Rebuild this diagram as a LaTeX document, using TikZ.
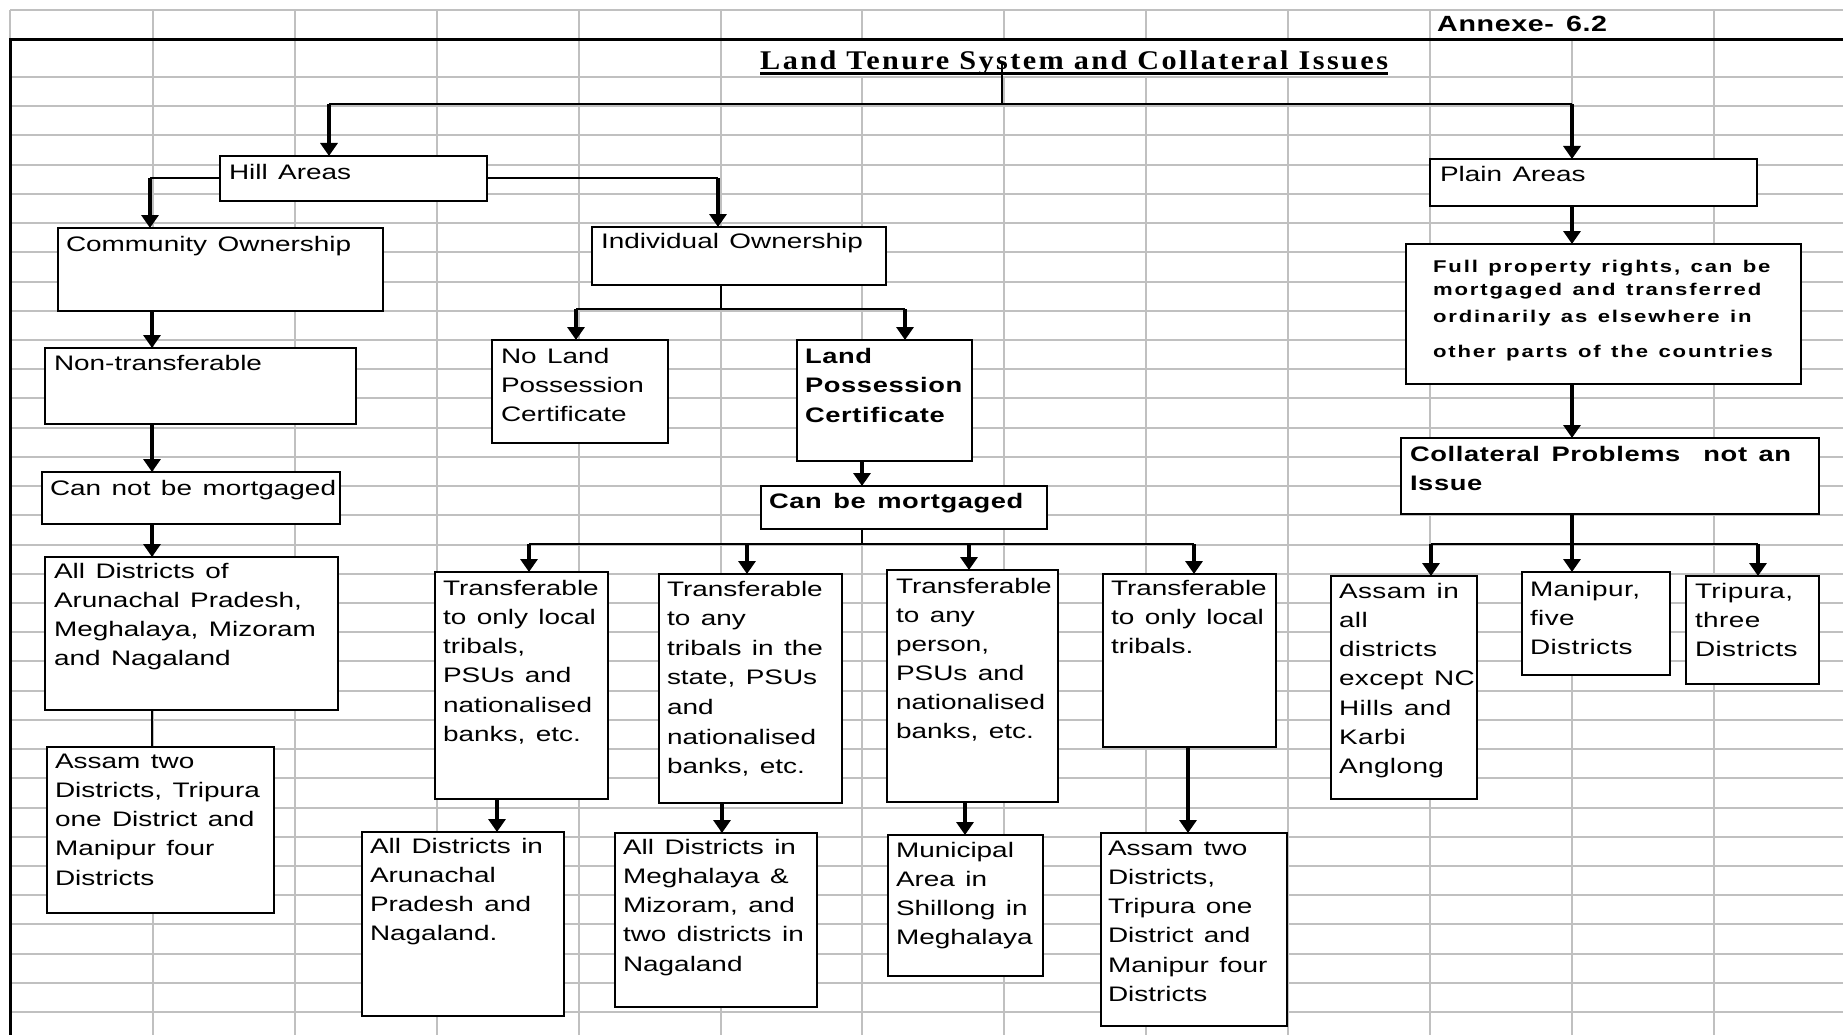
\documentclass[tikz,border=0pt]{standalone}
\usepackage{fontspec}
\usetikzlibrary{arrows.meta,fit}
\newfontfamily\rg[FakeStretch=1.33,WordSpace=1.35]{Liberation Sans}
\newfontfamily\rgw[FakeStretch=1.33,WordSpace=1.3,LetterSpace=2]{Liberation Sans}
\newfontfamily\bd[FakeStretch=1.3,LetterSpace=3,WordSpace=1.4]{Liberation Sans}
\newfontfamily\bdw[FakeStretch=1.3,LetterSpace=11,WordSpace=1.3]{Liberation Sans}
\newfontfamily\tm[FakeStretch=1.12,LetterSpace=9]{Liberation Serif}
\definecolor{gridgray}{RGB}{192,192,192}
\tikzset{
 gridline/.style={draw=gridgray,line width=2pt},
 boxst/.style={draw=black,line width=2pt,fill=white,inner sep=0pt,outer sep=0pt},
 txt/.style={anchor=north west,inner sep=0pt,outer sep=0pt,align=left,yshift=20pt,font=\rg\fontsize{21}{29.3}\selectfont},
 wtxt/.style={txt,font=\rgw\fontsize{21}{29.3}\selectfont},
 btxt/.style={txt,font=\bd\bfseries\fontsize{21}{29.5}\selectfont},
 conn/.style={line width=2pt},
 arr/.style={line width=3.5pt,-{Triangle[length=13pt,width=17pt]}},
}
\newcommand\mybox[5]{\node[boxst,fit={(#2,#3) (#4,#5)}] (#1) {};}
\newcommand\mytext[5][txt]{\node[#1] (#2) at (#3,#4) {\rule{0pt}{20pt}#5};}
\begin{document}
\begin{tikzpicture}[x=1pt,y=-1pt]
\useasboundingbox (0,0) rectangle (1843,1035);
\fill[white] (0,0) rectangle (1843,1035);
% spreadsheet grid
\foreach \xx in {153,295,437,579,721,1714} \draw[gridline] (\xx,10) -- (\xx,1035);
\foreach \xx in {862,1004,1146,1288} {\draw[gridline] (\xx,10) -- (\xx,40); \draw[gridline] (\xx,77) -- (\xx,1035);}
\draw[gridline] (1430,10) -- (1430,1035);
\draw[gridline] (1572,40) -- (1572,1035);
\draw[gridline] (10,10) -- (10,40);
\draw[gridline] (10,10) -- (1843,10);
\foreach \k in {0,...,32} \draw[gridline] (10,{77+29.22*\k}) -- (1843,{77+29.22*\k});
\draw[line width=3pt] (10,1035) -- (10,40) -- (1843,40);
% boxes
\mybox{hill}{220}{156}{487}{201}
\mybox{comm}{58}{228}{383}{311}
\mybox{indiv}{592}{227}{886}{285}
\mybox{plain}{1430}{159}{1757}{206}
\mybox{full}{1406}{244}{1801}{384}
\mybox{nont}{45}{348}{356}{424}
\mybox{nolpc}{492}{340}{668}{443}
\mybox{lpc}{797}{340}{972}{461}
\mybox{coll}{1401}{438}{1819}{514}
\mybox{cnm}{42}{472}{340}{524}
\mybox{cbm}{761}{486}{1047}{529}
\mybox{alld}{45}{557}{338}{710}
\mybox{t1}{435}{572}{608}{799}
\mybox{t2}{659}{574}{842}{803}
\mybox{t3}{887}{570}{1058}{802}
\mybox{t4}{1103}{574}{1276}{747}
\mybox{assamin}{1331}{576}{1477}{799}
\mybox{manipur}{1522}{572}{1670}{675}
\mybox{tripura}{1686}{576}{1819}{684}
\mybox{assamL}{47}{747}{274}{913}
\mybox{arun}{362}{832}{564}{1016}
\mybox{megh}{615}{833}{817}{1007}
\mybox{muni}{888}{835}{1043}{976}
\mybox{assamR}{1101}{833}{1287}{1026}
% title and annexe
\node[anchor=base west,inner sep=0pt,font=\tm\bfseries\fontsize{27}{30}\selectfont] (title) at (760,70) {Land Tenure System and Collateral Issues};
\draw[line width=3pt] ([yshift=-4pt]title.base west) -- ([yshift=-4pt]title.base east);
\node[anchor=base west,inner sep=0pt,font=\bd\bfseries\fontsize{22}{26}\selectfont] (annex) at (1437,32) {Annexe- 6.2};
% connectors
\coordinate (tj) at (1002,104);
\coordinate (hl) at (329,104);
\coordinate (pl) at (1572,104);
\draw[conn] (tj |- title.center) -- (tj);
\draw[conn] (hl) -- (pl);
\draw[arr] (hl) -- (hl |- hill.north);
\draw[arr] (pl) -- (pl |- plain.north);
\coordinate (cx) at (150,0);
\draw[conn] (hill.west) -- (hill.west -| cx);
\draw[arr] (hill.west -| cx) -- (cx |- comm.north);
\coordinate (ix) at (718,0);
\draw[conn] (hill.east) -- (hill.east -| ix);
\draw[arr] (hill.east -| ix) -- (ix |- indiv.north);
\coordinate (ij) at (721,309);
\coordinate (ia) at (576,309);
\coordinate (ib) at (905,309);
\draw[conn] (ij |- indiv.south) -- (ij);
\draw[conn] (ia) -- (ib);
\draw[arr] (ia) -- (ia |- nolpc.north);
\draw[arr] (ib) -- (ib |- lpc.north);
\coordinate (lx) at (152,0);
\draw[arr] (lx |- comm.south) -- (lx |- nont.north);
\draw[arr] (lx |- nont.south) -- (lx |- cnm.north);
\draw[arr] (lx |- cnm.south) -- (lx |- alld.north);
\draw[conn] (lx |- alld.south) -- (lx |- assamL.north);
\coordinate (mx) at (862,0);
\draw[arr] (mx |- lpc.south) -- (mx |- cbm.north);
\coordinate (cj) at (862,544);
\coordinate (c1) at (529,544);
\coordinate (c2) at (747,544);
\coordinate (c3) at (969,544);
\coordinate (c4) at (1194,544);
\draw[conn] (cj |- cbm.south) -- (cj);
\draw[conn] (c1) -- (c4);
\draw[arr] (c1) -- (c1 |- t1.north);
\draw[arr] (c2) -- (c2 |- t2.north);
\draw[arr] (c3) -- (c3 |- t3.north);
\draw[arr] (c4) -- (c4 |- t4.north);
\coordinate (x1) at (497,0);
\coordinate (x2) at (722,0);
\coordinate (x3) at (965,0);
\coordinate (x4) at (1188,0);
\draw[arr] (x1 |- t1.south) -- (x1 |- arun.north);
\draw[arr] (x2 |- t2.south) -- (x2 |- megh.north);
\draw[arr] (x3 |- t3.south) -- (x3 |- muni.north);
\draw[arr] (x4 |- t4.south) -- (x4 |- assamR.north);
\coordinate (px) at (1572,0);
\draw[arr] (px |- plain.south) -- (px |- full.north);
\draw[arr] (px |- full.south) -- (px |- coll.north);
\draw[arr] (px |- coll.south) -- (px |- manipur.north);
\coordinate (pa) at (1431,544);
\coordinate (pb) at (1758,544);
\draw[conn] (pa) -- (pb);
\draw[arr] (pa) -- (pa |- assamin.north);
\draw[arr] (pb) -- (pb |- tripura.north);
% texts
\mytext{thill}{229}{180}{Hill Areas}
\mytext{tcomm}{66}{251}{Community Ownership}
\mytext{tindiv}{601}{248}{Individual Ownership}
\mytext{tplain}{1440}{182}{Plain Areas}
\mytext[txt,font=\bdw\bfseries\fontsize{17}{23}\selectfont]{tfull}{1433}{272}{Full property rights, can be\\mortgaged and transferred\\[4pt]ordinarily as elsewhere in\\[12pt]other parts of the countries}
\mytext{tnont}{54}{370}{Non-transferable}
\mytext{tnolpc}{501}{363}{No Land\\Possession\\Certificate}
\mytext[btxt]{tlpc}{805}{363}{Land\\Possession\\Certificate}
\mytext[btxt]{tcoll}{1410}{461}{Collateral Problems~ not an\\Issue}
\mytext{tcnm}{50}{495}{Can not be mortgaged}
\mytext[btxt]{tcbm}{769}{508}{Can be mortgaged}
\mytext{talld}{54}{578}{All Districts of\\Arunachal Pradesh,\\Meghalaya, Mizoram\\and Nagaland}
\mytext{tt1}{443}{595}{Transferable\\to only local\\tribals,\\PSUs and\\nationalised\\banks, etc.}
\mytext[txt,font=\rg\fontsize{21}{29.6}\selectfont]{tt2}{667}{596}{Transferable\\to any\\tribals in the\\state, PSUs\\and\\nationalised\\banks, etc.}
\mytext[txt,font=\rg\fontsize{21}{29}\selectfont]{tt3}{896}{593}{Transferable\\to any\\person,\\PSUs and\\nationalised\\banks, etc.}
\mytext{tt4}{1111}{595}{Transferable\\to only local\\tribals.}
\mytext[wtxt]{tassamin}{1339}{598}{Assam in\\all\\districts\\except NC\\Hills and\\Karbi\\Anglong}
\mytext[wtxt]{tmanipur}{1530}{596}{Manipur,\\five\\Districts}
\mytext[wtxt]{ttripura}{1695}{598}{Tripura,\\three\\Districts}
\mytext{tassamL}{55}{768}{Assam two\\Districts, Tripura\\one District and\\Manipur four\\Districts}
\mytext{tarun}{370}{853}{All Districts in\\Arunachal\\Pradesh and\\Nagaland.}
\mytext{tmegh}{623}{854}{All Districts in\\Meghalaya \&\\Mizoram, and\\two districts in\\Nagaland}
\mytext{tmuni}{896}{857}{Municipal\\Area in\\Shillong in\\Meghalaya}
\mytext{tassamR}{1108}{855}{Assam two\\Districts,\\Tripura one\\District and\\Manipur four\\Districts}
\end{tikzpicture}
\end{document}
